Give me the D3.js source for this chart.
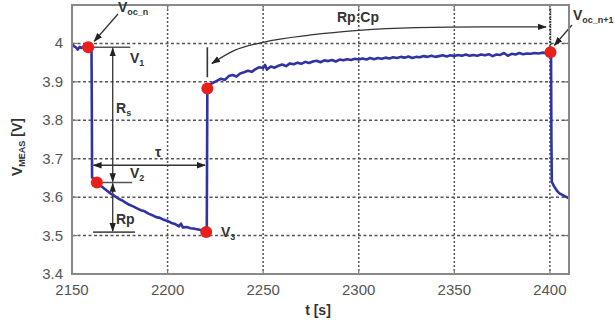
<!DOCTYPE html>
<html>
<head>
<meta charset="UTF-8">
<title>V_MEAS relaxation</title>
<script src="https://d3js.org/d3.v7.min.js"></script>
<style>
  body { margin: 0; background: #fff; }
  svg { display: block; font-family: "Liberation Sans", Arial, sans-serif; }
  .lbl { font-weight: bold; fill: #333; font-size: 14px; }
  .tick { fill: #555; font-size: 15px; }
</style>
</head>
<body>
<div id="chart"></div>
<script>
const time = [2150, 2151, 2152, 2153, 2154, 2155, 2156, 2157, 2158, 2159, 2160.2, 2160.4, 2160.5, 2161.5, 2163,
  2164, 2166, 2168, 2170, 2172, 2174, 2176, 2178, 2180, 2182, 2184, 2186, 2188, 2190, 2192, 2194, 2196, 2198, 2200,
  2202, 2204, 2206, 2207, 2208, 2210, 2212, 2214, 2216, 2218, 2220, 2220.5, 2220.8,
  2222, 2224, 2226, 2228, 2230, 2232, 2234, 2236, 2238, 2240, 2242, 2244, 2246, 2248, 2250, 2251, 2252, 2254, 2256, 2258,
  2260, 2262, 2264, 2266, 2268, 2270, 2272, 2274, 2276, 2278, 2280, 2282, 2284, 2286, 2288, 2290, 2292, 2294, 2296, 2298,
  2300, 2302, 2304, 2306, 2308, 2310, 2312, 2314, 2316, 2318, 2320, 2322, 2324, 2326, 2328, 2330, 2332, 2334, 2336, 2338,
  2340, 2342, 2344, 2346, 2348, 2350, 2352, 2354, 2356, 2358, 2360, 2362, 2364, 2366, 2368, 2370, 2372, 2374, 2376, 2378,
  2380, 2382, 2384, 2386, 2388, 2390, 2392, 2394, 2396, 2398, 2400, 2400.6, 2400.8, 2401, 2402, 2403, 2404, 2405, 2406, 2408, 2410];
const vmeas = [3.998, 3.993, 3.990, 3.984, 3.991, 3.988, 3.992, 3.989, 3.991, 3.989, 3.988, 3.80, 3.652, 3.645, 3.638,
  3.632, 3.626, 3.618, 3.610, 3.604, 3.597, 3.592, 3.586, 3.580, 3.576, 3.571, 3.566, 3.563, 3.557, 3.553, 3.548, 3.546, 3.541, 3.538,
  3.533, 3.530, 3.524, 3.531, 3.521, 3.522, 3.519, 3.518, 3.516, 3.514, 3.512, 3.510, 3.883,
  3.893, 3.898, 3.903, 3.908, 3.905, 3.915, 3.918, 3.914, 3.922, 3.925, 3.929, 3.926, 3.933, 3.938, 3.936, 3.944, 3.932, 3.940, 3.937, 3.942,
  3.945, 3.941, 3.948, 3.946, 3.950, 3.947, 3.952, 3.949, 3.953, 3.955, 3.951, 3.956, 3.954, 3.957, 3.953, 3.958, 3.956, 3.959, 3.957, 3.960,
  3.958, 3.961, 3.958, 3.962, 3.959, 3.962, 3.960, 3.963, 3.961, 3.964, 3.962, 3.965, 3.963, 3.966, 3.962, 3.965, 3.964, 3.967, 3.965, 3.968,
  3.965, 3.967, 3.969, 3.966, 3.969, 3.967, 3.970, 3.968, 3.971, 3.968, 3.970, 3.968, 3.971, 3.969, 3.972, 3.967, 3.971, 3.970, 3.975, 3.968,
  3.973, 3.971, 3.975, 3.972, 3.974, 3.973, 3.975, 3.974, 3.976, 3.975, 3.977, 3.976, 3.75, 3.640, 3.630, 3.622, 3.615, 3.610, 3.607, 3.602, 3.597];

// highlighted points (V_oc_n, V2, V3, start of recovery, V_oc_n+1)
const dotTime = [2158.5, 2163, 2220.2, 2220.8, 2400.3];
const dotV = [3.990, 3.638, 3.509, 3.883, 3.977];

const xTicks = [2150, 2200, 2250, 2300, 2350, 2400];
const yTicks = [3.4, 3.5, 3.6, 3.7, 3.8, 3.9, 4.0];
const yTickLabels = ["3.4", "3.5", "3.6", "3.7", "3.8", "3.9", "4"];

const width = 614, height = 327;
const x = d3.scaleLinear().domain([2150, 2410]).range([72, 569]);
const y = d3.scaleLinear().domain([3.4, 4.1]).range([274, 5]);

const svg = d3.select("#chart").append("svg")
  .attr("width", width).attr("height", height);

const defs = svg.append("defs");
defs.append("marker").attr("id", "ah")
  .attr("viewBox", "0 0 10 10").attr("refX", 9).attr("refY", 5)
  .attr("markerWidth", 7).attr("markerHeight", 7).attr("orient", "auto-start-reverse")
  .append("path").attr("d", "M0,1.5 L10,5 L0,8.5 z").attr("fill", "#222");

// grid
svg.append("g").selectAll("line").data(xTicks.slice(1)).join("line")
  .attr("x1", d => x(d)).attr("x2", d => x(d)).attr("y1", y(4.1)).attr("y2", y(3.4))
  .attr("stroke", "#555").attr("stroke-width", 1.5).attr("stroke-dasharray", "2,2");
svg.append("g").selectAll("line").data(yTicks.slice(1)).join("line")
  .attr("x1", x(2150)).attr("x2", x(2410)).attr("y1", d => y(d)).attr("y2", d => y(d))
  .attr("stroke", "#555").attr("stroke-width", 1.5).attr("stroke-dasharray", "3,2.5");

// inner ticks
const tk = svg.append("g").attr("stroke", "#777").attr("stroke-width", 1.2);
xTicks.forEach(d => {
  tk.append("line").attr("x1", x(d)).attr("x2", x(d)).attr("y1", y(3.4)).attr("y2", y(3.4) - 5);
  tk.append("line").attr("x1", x(d)).attr("x2", x(d)).attr("y1", y(4.1)).attr("y2", y(4.1) + 5);
});
yTicks.forEach(d => {
  tk.append("line").attr("x1", x(2150)).attr("x2", x(2150) + 5).attr("y1", y(d)).attr("y2", y(d));
  tk.append("line").attr("x1", x(2410)).attr("x2", x(2410) - 5).attr("y1", y(d)).attr("y2", y(d));
});

// tick labels
svg.append("g").selectAll("text").data(xTicks).join("text").attr("class", "tick")
  .attr("x", d => x(d)).attr("y", 295).attr("text-anchor", "middle").text(d => d);
svg.append("g").selectAll("text").data(yTicks).join("text").attr("class", "tick")
  .attr("x", 63).attr("y", d => y(d) + 5).attr("text-anchor", "end").text((d, i) => yTickLabels[i]);

// annotations (behind the trace)
const ann = svg.append("g").attr("stroke", "#333").attr("stroke-width", 1.3).attr("fill", "none");
const hline = (t0, t1, v) => ann.append("line").attr("x1", x(t0)).attr("x2", x(t1)).attr("y1", y(v)).attr("y2", y(v)).attr("stroke", "#555").attr("stroke-width", 1.6);
hline(2158.5, 2180.5, 3.990);
hline(2161, 2181.5, 3.638);
hline(2161, 2183, 3.509);
const arrow2 = (x1, y1, x2, y2) => ann.append("line").attr("x1", x1).attr("y1", y1).attr("x2", x2).attr("y2", y2)
  .attr("marker-start", "url(#ah)").attr("marker-end", "url(#ah)");
arrow2(x(2171.3), y(3.990) + 1, x(2171.3), y(3.638) - 1);
arrow2(x(2171.3), y(3.638) + 1, x(2171.3), y(3.509) - 1);
arrow2(x(2161.2), y(3.683), x(2219.6), y(3.683));
// Rp:Cp bracket
ann.append("line").attr("x1", x(2220.8)).attr("x2", x(2220.8)).attr("y1", y(3.99)).attr("y2", y(3.912)).attr("stroke-width", 1.6);
ann.append("line").attr("x1", x(2400.3)).attr("x2", x(2400.3)).attr("y1", y(4.09)).attr("y2", y(3.99))
  .attr("stroke", "#222").attr("stroke-width", 1.6).attr("stroke-dasharray", "1.5,1");
const curveT = [2223.2, 2235, 2250, 2275, 2300, 2330, 2365, 2398];
const curveV = [3.948, 3.982, 4.003, 4.022, 4.034, 4.041, 4.043, 4.043];
ann.append("path")
  .attr("d", d3.line().curve(d3.curveMonotoneX).x(d => x(d[0])).y(d => y(d[1]))(curveT.map((t, i) => [t, curveV[i]])))
  .attr("marker-start", "url(#ah)").attr("marker-end", "url(#ah)");
// pointers to V_oc labels
ann.append("line").attr("x1", 118).attr("y1", 14).attr("x2", x(2158.5) + 6).attr("y2", y(3.990) - 6).attr("marker-end", "url(#ah)");
ann.append("line").attr("x1", 572).attr("y1", 25).attr("x2", x(2400.3) + 4).attr("y2", y(3.977) - 7).attr("marker-end", "url(#ah)");

// trace
svg.append("path")
  .attr("d", d3.line().x(d => x(d[0])).y(d => y(d[1]))(time.map((t, i) => [t, vmeas[i]])))
  .attr("fill", "none").attr("stroke", "#2f33a3").attr("stroke-width", 2.6).attr("stroke-linejoin", "round");

// red markers
svg.append("g").selectAll("circle").data(dotTime).join("circle")
  .attr("cx", d => x(d)).attr("cy", (d, i) => y(dotV[i])).attr("r", 6).attr("fill", "#e8201c");

// frame
svg.append("rect").attr("x", x(2150)).attr("y", y(4.1)).attr("width", x(2410) - x(2150)).attr("height", y(3.4) - y(4.1))
  .attr("fill", "none").attr("stroke", "#888").attr("stroke-width", 2);

// text labels
function subLabel(px, py, main, sub, size) {
  const t = svg.append("text").attr("class", "lbl").attr("x", px).attr("y", py).style("font-size", (size || 14) + "px");
  t.append("tspan").text(main);
  t.append("tspan").attr("dy", 3).style("font-size", "9px").text(sub);
  return t;
}
subLabel(118, 12, "V", "oc_n");
subLabel(573, 20, "V", "oc_n+1");
subLabel(130, 63, "V", "1");
subLabel(130, 178, "V", "2");
subLabel(221, 237, "V", "3");
subLabel(116, 113, "R", "s");
svg.append("text").attr("class", "lbl").attr("x", 116).attr("y", 224).text("Rp");
svg.append("text").attr("class", "lbl").attr("x", 158).attr("y", 157).attr("text-anchor", "middle").text("τ");
svg.append("text").attr("class", "lbl").attr("x", 358).attr("y", 22).attr("text-anchor", "middle").text("Rp:Cp");
svg.append("text").attr("class", "lbl").attr("x", 318).attr("y", 315).attr("text-anchor", "middle").text("t [s]");

const yl = svg.append("text").attr("class", "lbl").attr("transform", "translate(22,176) rotate(-90)");
yl.append("tspan").text("V");
yl.append("tspan").attr("dy", 3).style("font-size", "9px").text("MEAS");
yl.append("tspan").attr("dy", -3).text(" [V]");
</script>
</body>
</html>
